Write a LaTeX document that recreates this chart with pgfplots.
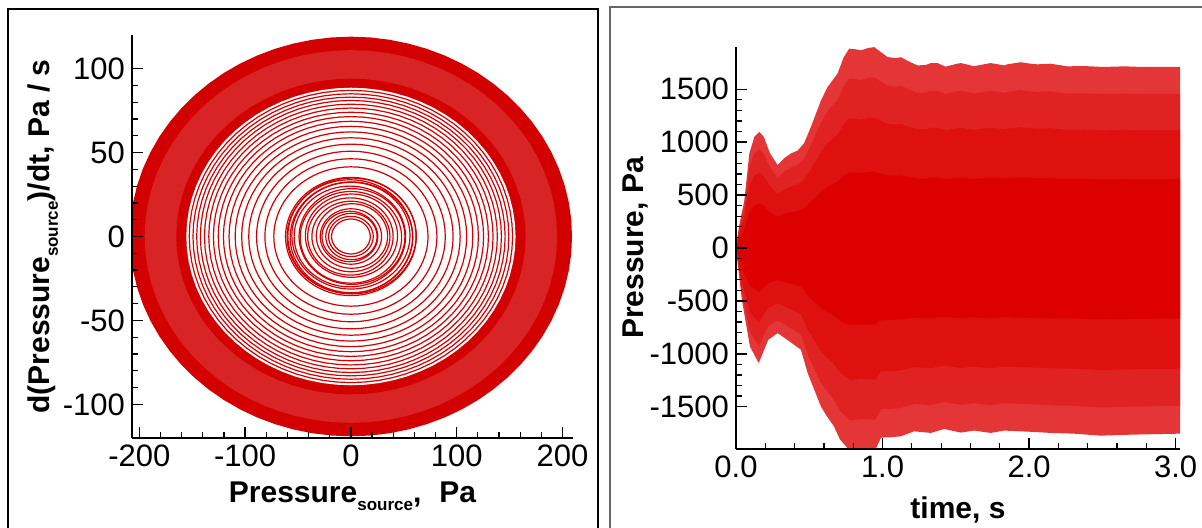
\documentclass[border=0pt]{standalone}
\usepackage{fontspec}
\setmainfont{Liberation Sans}
\usepackage{pgfplots}
\usepackage{pgfplotstable}
\pgfplotsset{compat=1.18}

\definecolor{lred}{RGB}{210,0,0}
\definecolor{lmoire}{RGB}{216,36,36}
\definecolor{rred}{RGB}{221,0,0}
\definecolor{rmid}{RGB}{223,16,16}
\definecolor{rmid2}{RGB}{225,34,34}
\definecolor{rout}{RGB}{228,54,54}

% unit circle, 5 degree steps
\pgfplotstableread{
c s
1 0
0.9962 0.0872
0.9848 0.1736
0.9659 0.2588
0.9397 0.3420
0.9063 0.4226
0.8660 0.5
0.8192 0.5736
0.7660 0.6428
0.7071 0.7071
0.6428 0.7660
0.5736 0.8192
0.5 0.8660
0.4226 0.9063
0.3420 0.9397
0.2588 0.9659
0.1736 0.9848
0.0872 0.9962
0 1
-0.0872 0.9962
-0.1736 0.9848
-0.2588 0.9659
-0.3420 0.9397
-0.4226 0.9063
-0.5 0.8660
-0.5736 0.8192
-0.6428 0.7660
-0.7071 0.7071
-0.7660 0.6428
-0.8192 0.5736
-0.8660 0.5
-0.9063 0.4226
-0.9397 0.3420
-0.9659 0.2588
-0.9848 0.1736
-0.9962 0.0872
-1 0
-0.9962 -0.0872
-0.9848 -0.1736
-0.9659 -0.2588
-0.9397 -0.3420
-0.9063 -0.4226
-0.8660 -0.5
-0.8192 -0.5736
-0.7660 -0.6428
-0.7071 -0.7071
-0.6428 -0.7660
-0.5736 -0.8192
-0.5 -0.8660
-0.4226 -0.9063
-0.3420 -0.9397
-0.2588 -0.9659
-0.1736 -0.9848
-0.0872 -0.9962
0 -1
0.0872 -0.9962
0.1736 -0.9848
0.2588 -0.9659
0.3420 -0.9397
0.4226 -0.9063
0.5 -0.8660
0.5736 -0.8192
0.6428 -0.7660
0.7071 -0.7071
0.7660 -0.6428
0.8192 -0.5736
0.8660 -0.5
0.9063 -0.4226
0.9397 -0.3420
0.9659 -0.2588
0.9848 -0.1736
0.9962 -0.0872
1 0
}\unitc

% envelope of the pressure signal: upper (forward in t), then lower (backward)
\pgfplotstableread{
t p
0 0
0.02 200
0.057 453
0.091 894
0.125 1050
0.159 1097
0.19 1050
0.23 900
0.284 783
0.33 850
0.375 894
0.42 920
0.464 989
0.511 1144
0.58 1396
0.625 1522
0.693 1648
0.734 1800
0.772 1884
0.81 1880
0.852 1868
0.9 1890
0.943 1899
0.99 1850
1.034 1805
1.09 1795
1.125 1803
1.17 1770
1.213 1742
1.24 1726
1.295 1730
1.33 1748
1.375 1748
1.43 1714
1.51 1742
1.534 1748
1.625 1718
1.65 1726
1.738 1748
1.83 1726
1.852 1736
1.92 1751
1.943 1756
2.01 1742
2.057 1736
2.147 1742
2.26 1717
2.374 1720
2.51 1711
2.647 1717
2.78 1711
2.92 1711
3.03 1711
3.03 -1755
2.71 -1764
2.488 -1774
2.306 -1755
2.147 -1748
1.99 -1736
1.83 -1726
1.738 -1748
1.625 -1726
1.534 -1745
1.42 -1711
1.33 -1748
1.215 -1733
1.125 -1780
1.05 -1790
0.99 -1792
0.95 -1910
0.85 -1900
0.78 -1920
0.76 -1890
0.71 -1811
0.668 -1686
0.62 -1591
0.579 -1497
0.489 -1182
0.443 -962
0.35 -868
0.284 -805
0.22 -868
0.155 -1088
0.095 -931
0.04 -490
0.02 -250
0 0
}\envelope

\newcommand{\ring}[3]{\addplot[lred, mark=none, line width=0.6pt] table[x expr=\thisrow{c}*#1*1.757+#2, y expr=\thisrow{s}*#1+#3]{\unitc};}
\newcommand{\disk}[2]{\addplot[fill=#2, draw=none, mark=none] table[x expr=\thisrow{c}*#1*1.757, y expr=\thisrow{s}*#1]{\unitc};}

\pgfplotsset{
  mystyle/.style={
    scale only axis,
    axis lines=left,
    axis line style={-, line width=1pt},
    tick align=inside,
    major tick length=5.5pt,
    minor tick length=3pt,
    every tick/.style={black, line width=0.8pt},
    every minor tick/.style={black, line width=0.6pt},
    tick label style={font=\fontsize{15.5}{18}\selectfont},
    label style={font=\fontsize{15}{18}\selectfont\bfseries},
    /pgf/number format/assume math mode=true,
    /pgf/number format/1000 sep={},
    axis on top,
  }
}

\newcommand{\src}{\raisebox{-4pt}{\fontsize{8.5}{10}\selectfont source}}

\begin{document}
\begin{tikzpicture}
\path[use as bounding box] (0,0) rectangle (601pt,264pt);
\draw[line width=0.7pt] (4pt,-5pt) rectangle (299pt,259.5pt);
\draw[black!60, line width=0.6pt] (305pt,-5pt) rectangle (610pt,260.5pt);

% ---------- left: phase portrait ----------
\begin{axis}[mystyle,
  at={(66pt,45pt)}, anchor=south west,
  width=220.5pt, height=201.5pt,
  xmin=-207, xmax=210, ymin=-120, ymax=120,
  xtick={-200,-100,0,100,200}, ytick={-100,-50,0,50,100},
  minor x tick num=4, minor y tick num=4,
  xlabel={Pressure\src,\hspace{0.6em}Pa},
  ylabel={d(Pressure\src)/dt, Pa / s},
  xlabel style={at={(axis description cs:0.5,-0.159)}, anchor=base},
  ylabel style={at={(axis description cs:-0.186,0.5)}, anchor=base},
]
\disk{119}{lred}
\disk{111}{lmoire}
\disk{94}{lred}
\disk{88.6}{white}
\ring{87.0}{0}{0}
\ring{85.0}{0}{0}
\ring{83.0}{0}{0}
\ring{81.0}{0}{0}
\ring{78.8}{0}{0}
\ring{76.5}{0}{0}
\ring{74.0}{0}{0}
\ring{71.4}{0}{0}
\ring{68.6}{0}{0}
\ring{65.6}{0}{0}
\ring{62.3}{0}{0}
\ring{58.8}{0}{0}
\ring{55.0}{0}{0}
\ring{50.8}{0}{0}
\ring{46.3}{0}{0}
\ring{41.5}{0}{0}
% inner cluster
\ring{35.2}{0}{0}
\ring{34.5}{1}{0.3}
\ring{33.8}{-1}{0}
\ring{33.0}{0.5}{-0.5}
\ring{31.8}{0}{0.5}
\ring{30.0}{-1}{0}
\ring{28.5}{1}{0}
\ring{27.3}{0}{-0.5}
\ring{24.8}{0.5}{0.5}
\ring{23.0}{-0.5}{0}
\ring{21.0}{0}{0}
\ring{19.2}{1}{0.3}
\ring{16.5}{0}{0}
\ring{15.0}{-1}{0}
\ring{13.8}{0.5}{0}
\ring{12.0}{0}{0}
\ring{10.4}{0}{0}
\end{axis}

% ---------- right: pressure time series ----------
\begin{axis}[mystyle,
  at={(368pt,39.5pt)}, anchor=south west,
  width=222pt, height=201pt,
  xmin=0, xmax=3.03, ymin=-1900, ymax=1900,
  xtick={0,1,2,3}, ytick={-1500,-1000,-500,0,500,1000,1500},
  minor x tick num=4, minor y tick num=4,
  xticklabel style={/pgf/number format/.cd, fixed, fixed zerofill, precision=1},
  xlabel={time, s},
  ylabel={Pressure, Pa},
  xlabel style={at={(axis description cs:0.5,-0.172)}, anchor=base},
  ylabel style={at={(axis description cs:-0.209,0.5)}, anchor=base},
]
\addplot[fill=rout, draw=none, mark=none] table[x=t, y=p]{\envelope};
\addplot[fill=rmid2, draw=none, mark=none] table[x=t, y expr=\thisrow{p}*0.85]{\envelope};
\addplot[fill=rmid, draw=none, mark=none] table[x=t, y expr=\thisrow{p}*0.65]{\envelope};
\addplot[fill=rred, draw=none, mark=none] table[x=t, y expr=\thisrow{p}*0.38]{\envelope};
\end{axis}
\end{tikzpicture}
\end{document}
